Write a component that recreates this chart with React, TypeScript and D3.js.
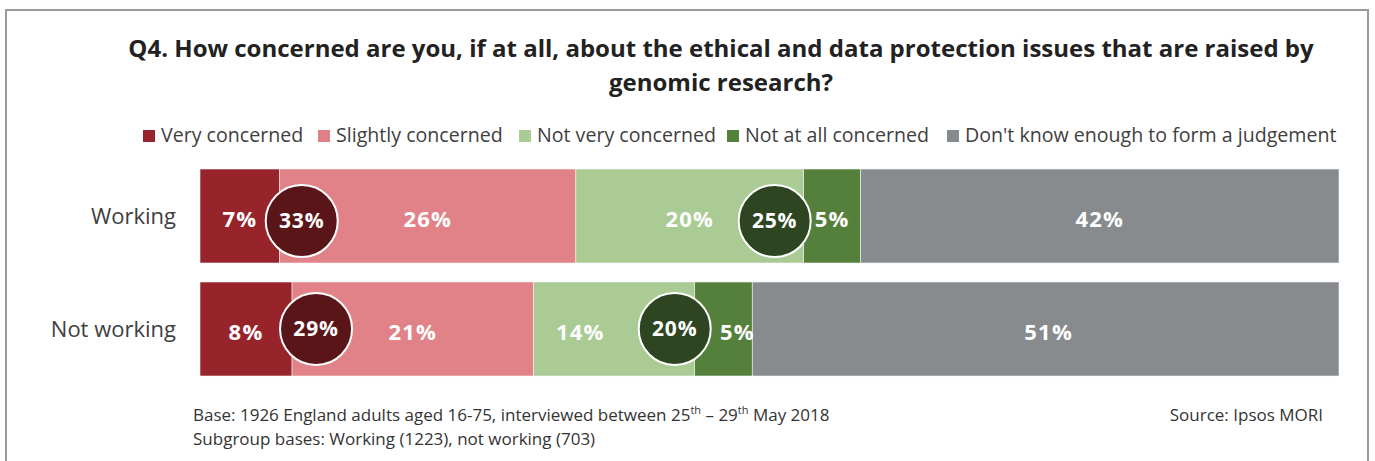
import React from "react";
import * as d3 from "d3";

const categories = ["Working", "Not working"];
const seriesNames = [
  "Very concerned",
  "Slightly concerned",
  "Not very concerned",
  "Not at all concerned",
  "Don't know enough to form a judgement",
];
const veryConcerned = [7, 8];
const slightlyConcerned = [26, 21];
const notVeryConcerned = [20, 14];
const notAtAllConcerned = [5, 5];
const dontKnow = [42, 51];
const netConcerned = [33, 29];
const netNotConcerned = [25, 20];

const seriesColors = ["#97232b", "#e08287", "#aacb94", "#55803b", "#888b8d"];
const netColors = ["#5a1519", "#2d4520"];

const titleLines = [
  "Q4. How concerned are you, if at all, about the ethical and data protection issues that are raised by",
  "genomic research?",
];

// presentational nudges (pixels) for labels that avoid the circles
const labelDx = [
  [0, 0, 0, 0, 0],
  [0, 0, -34, 14, 3],
];
const circleDx = [
  [22, -29],
  [24, -20],
];
const circleDy = [5, 0];

const W = 1375;
const H = 461;
const FONT = "'Open Sans', 'Noto Sans', sans-serif";

export default function App() {
  const seriesValues = [veryConcerned, slightlyConcerned, notVeryConcerned, notAtAllConcerned, dontKnow];
  const rows = categories.map((c, i) => {
    const r: any = { category: c };
    seriesNames.forEach((s, j) => (r[s] = seriesValues[j][i]));
    return r;
  });
  const stacked = d3.stack<any>().keys(seriesNames)(rows);

  const y = d3.scaleBand<string>().domain(categories).range([169, 376]).paddingInner(0.168);
  const xFor = (i: number) => {
    const total = d3.sum(seriesValues, (v) => v[i]);
    return d3.scaleLinear().domain([0, total]).range([200, 1339]);
  };

  const legendX = [143, 318, 519, 727, 947];

  return (
    <svg width={W} height={H} style={{ display: "block", position: "absolute", left: 0, top: 0 }} fontFamily={FONT}>
      <rect x={0} y={0} width={W} height={H} fill="#fff" />
      <rect x={6} y={10} width={1362} height={470} fill="none" stroke="#9a9a9a" strokeWidth={2} />
      {titleLines.map((t, i) => (
        <text key={i} x={721} y={57 + i * 34} textAnchor="middle" fontSize={24} fontWeight={700} fill="#222">
          {t}
        </text>
      ))}
      {seriesNames.map((s, j) => (
        <g key={s}>
          <rect x={legendX[j]} y={130} width={12} height={12} fill={seriesColors[j]} />
          <text x={legendX[j] + 18} y={142} fontSize={19.6} fill="#404040">
            {s}
          </text>
        </g>
      ))}
      {categories.map((c, i) => {
        const x = xFor(i);
        const y0 = y(c)!;
        const bw = y.bandwidth();
        const cy = y0 + bw / 2;
        return (
          <g key={c}>
            <text x={176} y={cy + 8} textAnchor="end" fontSize={22} fill="#404040">
              {c}
            </text>
            {stacked.map((layer, j) => {
              const d = layer[i];
              return (
                <rect
                  key={j}
                  x={x(d[0])}
                  y={y0}
                  width={x(d[1]) - x(d[0])}
                  height={bw}
                  fill={seriesColors[j]}
                  stroke="#f4f4f4"
                  strokeWidth={0.6}
                />
              );
            })}
            {stacked.map((layer, j) => {
              const d = layer[i];
              return (
                <text
                  key={"l" + j}
                  x={(x(d[0]) + x(d[1])) / 2 + labelDx[i][j]}
                  y={cy + 11}
                  textAnchor="middle"
                  fontSize={22}
                  letterSpacing={1.2}
                  fontWeight={700}
                  fill="#fff"
                >
                  {d[1] - d[0]}%
                </text>
              );
            })}
            {[
              { v: netConcerned[i], cx: x(stacked[0][i][1]) + circleDx[i][0], fill: netColors[0] },
              { v: netNotConcerned[i], cx: x(stacked[2][i][1]) + circleDx[i][1], fill: netColors[1] },
            ].map((c2, k) => (
              <g key={"c" + k}>
                <circle cx={c2.cx} cy={cy + circleDy[i]} r={36} fill={c2.fill} stroke="#fff" strokeWidth={2} />
                <text
                  x={c2.cx}
                  y={cy + circleDy[i] + 7}
                  textAnchor="middle"
                  fontSize={21}
                  letterSpacing={0.8}
                  fontWeight={700}
                  fill="#fff"
                >
                  {c2.v}%
                </text>
              </g>
            ))}
          </g>
        );
      })}
      <text x={193} y={421} fontSize={17} fill="#333">
        Base: 1926 England adults aged 16-75, interviewed between 25
        <tspan fontSize={11} dy={-7}>th</tspan>
        <tspan dy={7}> – 29</tspan>
        <tspan fontSize={11} dy={-7}>th</tspan>
        <tspan dy={7}> May 2018</tspan>
      </text>
      <text x={193} y={445} fontSize={17} fill="#333">
        Subgroup bases: Working (1223), not working (703)
      </text>
      <text x={1323} y={421} textAnchor="end" fontSize={17} fill="#333">
        Source: Ipsos MORI
      </text>
    </svg>
  );
}
